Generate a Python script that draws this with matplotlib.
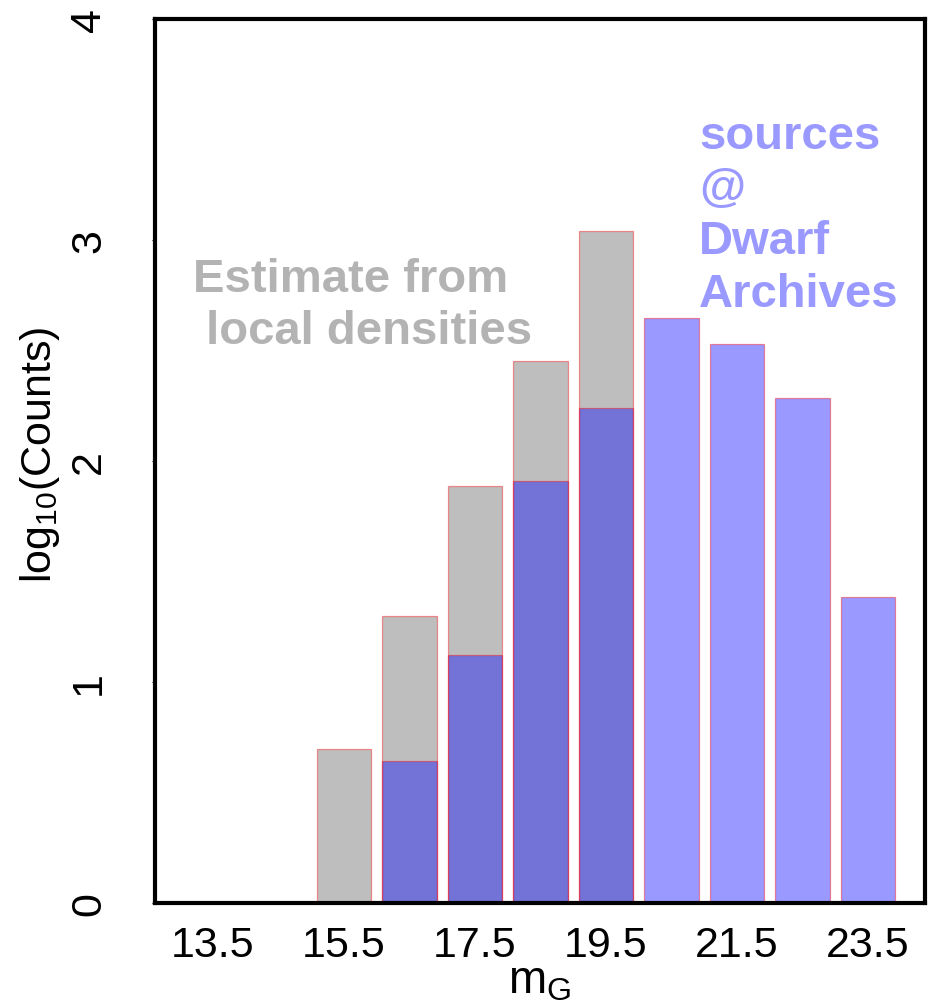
import matplotlib
matplotlib.use("Agg")
import matplotlib.pyplot as plt
import numpy as np

plt.rcParams['font.family'] = ['Liberation Sans', 'DejaVu Sans']

# Data (log10 counts per magnitude bin)
mag_bins = [13.5, 14.5, 15.5, 16.5, 17.5, 18.5, 19.5, 20.5, 21.5, 22.5, 23.5]
estimate_local = [0.0, 0.0, 0.697, 1.299, 1.885, 2.451, 3.042, 0.0, 0.0, 0.0, 0.0]
dwarf_sources = [0.0, 0.0, 0.0, 0.643, 1.122, 1.908, 2.242, 2.647, 2.529, 2.285, 1.383]
tick_labels = ["13.5", "15.5", "17.5", "19.5", "21.5", "23.5"]
y_ticks = [0, 1, 2, 3, 4]

W, H = 935, 1004
fig = plt.figure(figsize=(W / 100, H / 100), dpi=100)
ax = fig.add_axes([155 / W, 1 - 904 / H, (925 - 155) / W, (904 - 20) / H])

x = np.array(mag_bins)
est = np.array(estimate_local)
dw = np.array(dwarf_sources)
bw = 1 / 1.2

m1 = est > 0
ax.bar(x[m1], est[m1], width=bw, color='#BEBEBE',
       edgecolor=(1, 0, 0, 0.4), linewidth=0.9, zorder=2)
m2 = dw > 0
ax.bar(x[m2], dw[m2], width=bw, color=(0, 0, 1, 0.4),
       edgecolor=(1, 0, 0, 0.4), linewidth=0.9, zorder=3)

ax.set_xlim(12.616, 24.369)
ax.set_ylim(0, 4)

ax.set_xticks([float(t) for t in tick_labels])
ax.set_xticklabels(tick_labels, fontsize=31)
ax.tick_params(axis='x', length=0, pad=16)
ax.set_yticks(y_ticks)
ax.set_yticklabels([str(v) for v in y_ticks], fontsize=31, rotation=90, va='center')
ax.tick_params(axis='y', length=2, width=0.8, pad=31)

for s in ax.spines.values():
    s.set_linewidth(3)
    s.set_zorder(5)

fig.text(540 / W, 1 - 982 / H, r"m$_\mathregular{G}$", fontsize=33,
         ha='center', va='center')
fig.text(40 / W, 1 - 455 / H, r"log$_\mathregular{10}$(Counts)", fontsize=31,
         ha='center', va='center', rotation=90)

fig.text(193 / W, 1 - 306 / H, "Estimate from\n local densities",
         fontsize=34, fontweight='bold', color='#B3B3B3', ha='left', va='center',
         linespacing=1.25)
fig.text(699 / W, 1 - 216 / H, "sources\n@\nDwarf\nArchives",
         fontsize=34, fontweight='bold', color='#9999FF', ha='left', va='center',
         linespacing=1.26)

fig.savefig("out.png", dpi=100)
